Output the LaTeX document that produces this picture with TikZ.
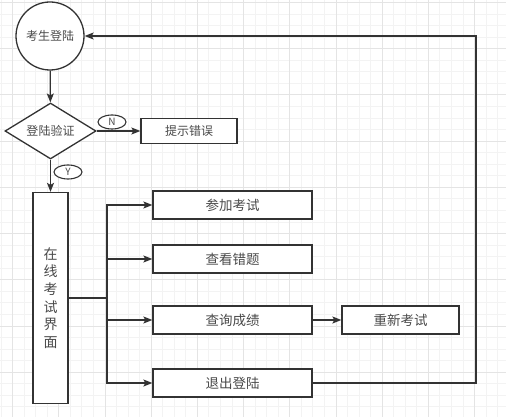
\documentclass[tikz,border=0pt]{standalone}
\usepackage{fontspec}
\setmainfont{Noto Sans CJK SC}
\usepackage{xcolor}
\usepackage{tikz}
\usetikzlibrary{shapes.geometric,arrows.meta}

\definecolor{linegray}{HTML}{333333}
\definecolor{textgray}{HTML}{4A4A4A}
\definecolor{gridminor}{HTML}{F3F3F3}
\definecolor{gridmajor}{HTML}{E4E4E4}

\begin{document}
\begin{tikzpicture}[x=1pt, y=-1pt,
    box/.style={rectangle, draw=linegray, fill=white, line width=1.3pt, text=textgray, inner sep=0pt},
    start/.style={circle, draw=linegray, fill=white, line width=1.3pt, text=textgray, inner sep=0pt, minimum size=68pt, font=\fontsize{12}{14}\selectfont},
    decide/.style={diamond, aspect=1.63, draw=linegray, fill=white, line width=1.3pt, text=textgray, inner sep=0pt, minimum width=91pt, minimum height=56pt, font=\fontsize{12}{14}\selectfont},
    tag/.style={ellipse, draw=linegray, fill=white, line width=1.1pt, text=textgray, inner sep=0pt, minimum width=28pt, minimum height=14pt, font=\fontsize{10}{10}\selectfont},
    flow/.style={draw=linegray, line width=1.3pt, -{Stealth[length=9pt,width=7pt,inset=2pt]}},
    wire/.style={draw=linegray, line width=1.3pt}]
        \useasboundingbox (0,0) rectangle (506,417);
        \fill[white] (0,0) rectangle (506,417);
        % background grid
        \foreach \i in {0,...,43} \draw[gridminor, line width=0.6pt] (0.85+\i*11.55,0) -- (0.85+\i*11.55,417);
        \foreach \i in {0,...,35} \draw[gridminor, line width=0.6pt] (0,2.4+\i*11.55) -- (506,2.4+\i*11.55);
        \foreach \i in {0,...,10} \draw[gridmajor, line width=0.6pt] (12.4+\i*46.2,0) -- (12.4+\i*46.2,417);
        \foreach \i in {0,...,9} \draw[gridmajor, line width=0.6pt] (0,2.4+\i*46.2) -- (506,2.4+\i*46.2);

        \node at (50,36) [start] (login) {考生登陆};
        \node at (50.5,131) [decide] (check) {登陆验证};
        \node at (189,131) [box, minimum width=96pt, minimum height=25pt, font=\fontsize{12}{14}\selectfont] (err) {提示错误};
        \node at (50.5,298) [box, minimum width=35pt, minimum height=211pt, align=center, font=\fontsize{14}{17.6}\selectfont] (exam) {在\\线\\考\\试\\界\\面};

        \node at (232.5,205) [box, minimum width=159pt, minimum height=28pt, font=\fontsize{13.5}{16}\selectfont] (join) {参加考试};
        \node at (232.5,259) [box, minimum width=159pt, minimum height=28pt, font=\fontsize{13.5}{16}\selectfont] (review) {查看错题};
        \node at (232.5,320) [box, minimum width=159pt, minimum height=28pt, font=\fontsize{13.5}{16}\selectfont] (score) {查询成绩};
        \node at (232.5,383) [box, minimum width=159pt, minimum height=28pt, font=\fontsize{13.5}{16}\selectfont] (logout) {退出登陆};
        \node at (400.5,320) [box, minimum width=117pt, minimum height=28pt, font=\fontsize{13.5}{16}\selectfont] (retry) {重新考试};

        \coordinate (bus) at (107,298);
        \coordinate (back) at (476,36);

        \draw (login)[flow] -- (check);
        \draw (check)[flow] -- (err);
        \draw (check)[flow] -- (exam);
        \draw (exam)[wire] -- (bus);
        \foreach \n in {join,review,score,logout} \draw (bus)[flow] |- (\n);
        \draw (score)[flow] -- (retry);
        \draw (logout)[flow] -| (back) -- (login);

        \node at (112,122) [tag] (no) {N};
        \node at (68,172) [tag] (yes) {Y};
    \end{tikzpicture}
\end{document}
